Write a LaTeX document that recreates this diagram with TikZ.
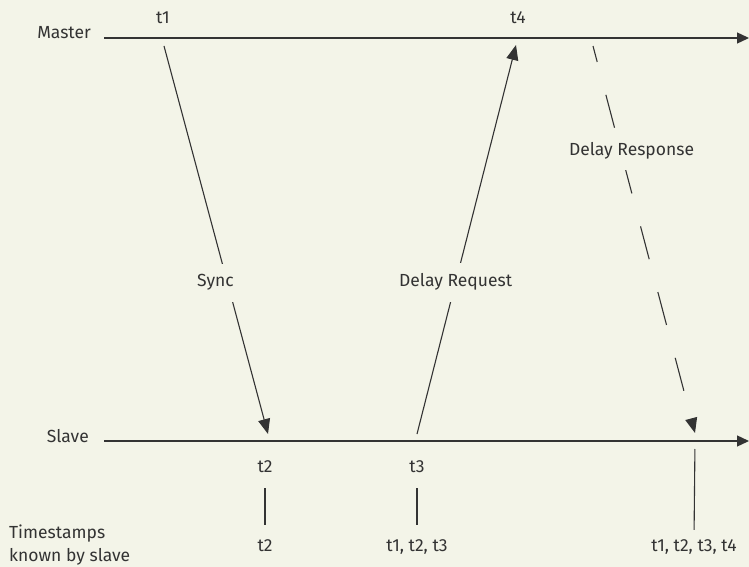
\documentclass[tikz,border=0pt]{standalone}
\usepackage{fontspec}
\setmainfont{Fira Sans}
\usepackage{tikz}
\usetikzlibrary{positioning,arrows.meta}
\definecolor{paper}{HTML}{F3F4E8}
\definecolor{ink}{HTML}{333333}
\tikzset{every node/.style={font=\fontsize{17.5}{23}\selectfont, text=ink, inner sep=0pt}}

\begin{document}
\begin{tikzpicture}[x=1pt, y=-1pt,
  axis/.style={draw=ink, line width=1.3pt, -{Triangle[length=12pt,width=11pt]}},
  msg/.style={draw=ink, line width=1.1pt, -{Triangle[length=15pt,width=12pt]}},
  lbl/.style={fill=paper, inner xsep=3pt, inner ysep=11pt},
  tick/.style={draw=ink, line width=1.1pt}]

\fill[paper] (0,0) rectangle (749,567);
\useasboundingbox (0,0) rectangle (749,567);

% time lines
\coordinate (mstart) at (104,38);
\coordinate (mend) at (749,38);
\coordinate (sstart) at (104,441);
\coordinate (send) at (749,441);
\node[anchor=base east] (master) at (91,39) {Master};
\node[anchor=base east] (slave) at (89,442) {Slave};
\draw[axis] (mstart) -- (mend);
\draw[axis] (sstart) -- (send);

% message end points
\coordinate (syncout) at (164,46);
\coordinate (syncin) at (268,434);
\coordinate (reqout) at (417,434);
\coordinate (reqin) at (516,45);
\coordinate (respout) at (593,46);
\coordinate (respin) at (695,433);

\node[anchor=base] (t1) at (163,24) {t1};
\node[anchor=base] (t4) at (518,24) {t4};
\node[anchor=base] (t2) at (265,472) {t2};
\node[anchor=base] (t3) at (417,472) {t3};

% messages
\draw[msg] (syncout) -- node[lbl, pos=.61, xshift=-12pt] (sync) {Sync} (syncin);
\draw[msg] (reqout) -- node[lbl, pos=.39] (req) {Delay Request} (reqin);
\draw[msg, dash pattern=on 34pt off 34pt, dash phase=17.5pt] (respout) -- node[lbl, pos=.27, xshift=11pt] (resp) {Delay Response} (respin);

% timestamps known by slave
\node[anchor=base] (k2) at (265,551) {t2};
\node[anchor=base] (k3) at (417,551) {t1, t2, t3};
\node[anchor=base] (k4) at (694,551) {t1, t2, t3, t4};
\node[anchor=west, align=left] (known) at (9,545) {Timestamps\\known by slave};

\draw[tick, shorten <=16pt, shorten >=14pt] (t2.south) -- (k2.north);
\draw[tick, shorten <=16pt, shorten >=14pt] (t3.south) -- (k3.north);
\draw[tick, shorten <=8pt, shorten >=9pt] (respin |- send) -- (k4.north);

\end{tikzpicture}
\end{document}
